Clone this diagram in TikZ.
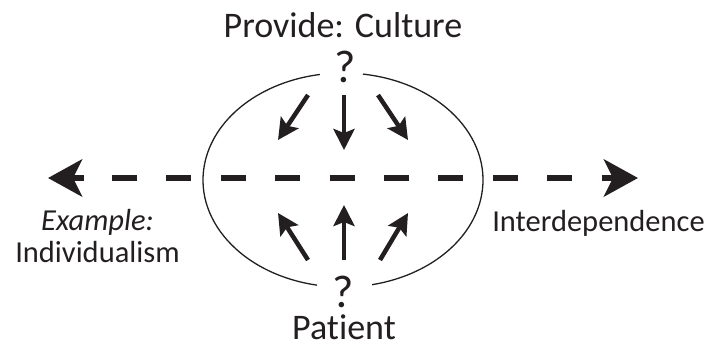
\documentclass[tikz,border=0pt]{standalone}
\usepackage{fontspec}
\setmainfont[Ligatures=NoCommon]{Carlito}
\usetikzlibrary{arrows.meta}
\definecolor{ink}{HTML}{231F20}
\tikzset{
  lbl/.style={inner sep=0pt, anchor=base, text=ink},
  qmark/.style={lbl, font=\fontsize{46}{50}\selectfont},
  bigtext/.style={lbl, font=\fontsize{36}{40}\selectfont},
  smalltext/.style={lbl, font=\fontsize{30.5}{34}\selectfont},
  rim/.style={draw=ink, line width=1.3pt},
  axis/.style={draw=ink, line width=6.5pt, dash pattern=on 25pt off 29.4pt, dash phase=44.8pt},
  bigtip/.style={draw=ink, line width=6.5pt, -{Stealth[length=34pt, width=37pt, inset=9pt]}},
  flow/.style={draw=ink, line width=4.5pt, -{Stealth[length=21pt, width=21pt, inset=4pt]}}
}
\begin{document}
\begin{tikzpicture}[x=1pt, y=-1pt]
\useasboundingbox (0,0) rectangle (708,343);
% texts
\node[bigtext] (title) at (343,37) {Provide: Culture};
\node[qmark] (qtop) at (345,82) {?};
\node[qmark] (qbot) at (343,307) {?};
\node[bigtext] (patient) at (344,339) {Patient};
\node[smalltext] (example) at (97.5,230) {\itshape Example:};
\node[smalltext] (indiv) at (97.5,262) {Individualism};
\node[smalltext] (inter) at (598.5,231) {Interdependence};
% ellipse
\coordinate (E) at (343,180);
\draw[rim] (E) ++(278.2:140 and 107) arc[start angle=278.2, end angle=438, x radius=140, y radius=107];
\draw[rim] (E) ++(100.7:140 and 107) arc[start angle=100.7, end angle=260.5, x radius=140, y radius=107];
% axis
\coordinate (Ltip) at (48,178);
\coordinate (Rtip) at (638,178);
\coordinate (Lback) at (84,178);
\coordinate (Rback) at (603,178);
\draw[axis] (Ltip) -- (Rtip);
\draw[bigtip] (Lback) -- (Ltip);
\draw[bigtip] (Rback) -- (Rtip);
% top arrows
\coordinate (t1s) at (308,95);  \coordinate (t1e) at (278,140);
\coordinate (t2s) at (344,95);  \coordinate (t2e) at (344,150);
\coordinate (t3s) at (378,95);  \coordinate (t3e) at (408,140);
\draw[flow] (t1s) -- (t1e);
\draw[flow] (t2s) -- (t2e);
\draw[flow] (t3s) -- (t3e);
% bottom arrows
\coordinate (b1s) at (308,260);  \coordinate (b1e) at (278,213);
\coordinate (b2s) at (344,260);  \coordinate (b2e) at (344,205);
\coordinate (b3s) at (380,260);  \coordinate (b3e) at (408,213);
\draw[flow] (b1s) -- (b1e);
\draw[flow] (b2s) -- (b2e);
\draw[flow] (b3s) -- (b3e);
\end{tikzpicture}
\end{document}
